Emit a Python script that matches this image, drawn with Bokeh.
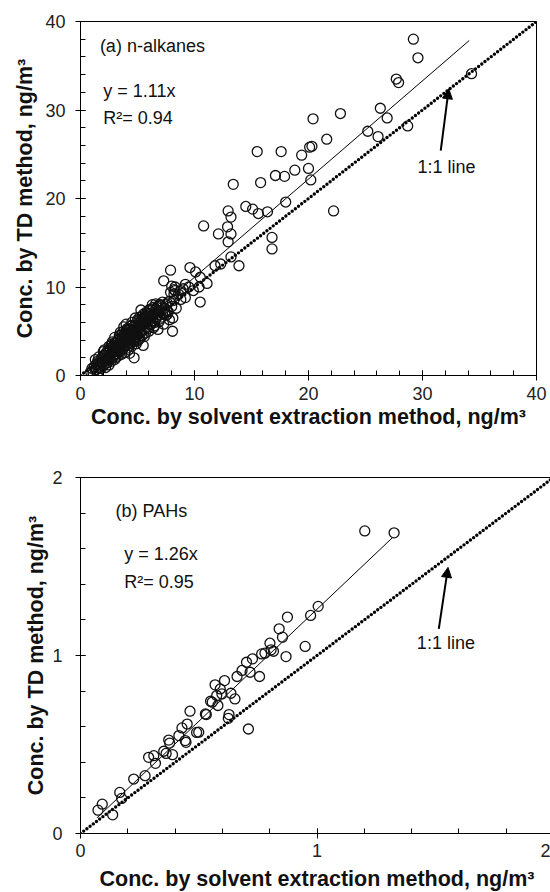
from bokeh.plotting import figure
from bokeh.models import Range1d, SingleIntervalTicker, Label, Arrow, NormalHead
from bokeh.layouts import column
from bokeh.embed import file_html
from bokeh.resources import INLINE

# ---------------- data: (a) n-alkanes ----------------
alk_x = [29.2, 29.6, 34.3, 27.7, 27.9, 26.3, 26.9, 22.8, 20.4, 25.2, 26.1, 28.7,
         21.6, 20.1, 20.3, 19.4, 17.6, 15.5, 18.8, 20.0, 20.2, 17.1, 17.9, 15.8,
         13.4, 18.0, 22.2, 14.5, 15.1, 15.6, 16.4, 12.95, 13.2, 10.8, 12.1, 12.9,
         13.2, 12.95, 16.8, 16.8, 12.3, 13.2, 13.9, 11.8, 7.9, 9.6, 10.1, 10.5,
         11.1, 7.3, 10.5, 8.3, 8.8, 9.5, 9.9, 10.4, 8.2, 9.2, 8.07,
         0.9, 1.0, 1.1, 1.2, 1.3, 1.4, 1.5, 1.5, 1.6, 1.7, 1.8, 1.8, 1.9, 2.0, 2.0,
         2.1, 2.2, 2.2, 2.3, 2.3, 2.4, 2.5, 2.5, 2.6, 2.6, 2.7, 2.8, 2.8, 2.9, 3.0,
         3.0, 3.0, 3.1, 3.2, 3.2, 3.3, 3.3, 3.4, 3.5, 3.5, 3.5, 3.6, 3.7, 3.7, 3.8,
         3.8, 3.9, 3.9, 4.0, 4.0, 4.0, 4.1, 4.1, 4.2, 4.2, 4.3, 4.3, 4.4, 4.4, 4.5,
         4.5, 4.5, 4.6, 4.6, 4.7, 4.7, 4.8, 4.8, 4.9, 4.9, 5.0, 5.0, 5.0, 5.1, 5.2,
         5.2, 5.3, 5.3, 5.4, 5.5, 5.5, 5.6, 5.6, 5.7, 5.8, 5.8, 5.9, 6.0, 6.0, 6.1,
         6.2, 6.3, 6.3, 6.4, 6.5, 6.5, 6.6, 6.7, 6.8, 6.9, 7.0, 7.0, 7.2, 7.3, 7.4,
         7.5, 7.6, 7.7, 7.8, 8.0, 8.1, 8.2, 8.3, 8.4, 8.6, 8.8, 9.0, 9.2,
         1.3, 1.6, 2.1, 2.4, 2.7, 2.9, 3.1, 3.4, 3.6, 3.9, 4.1, 4.3, 4.6, 4.8, 5.1,
         5.4, 5.7, 6.1, 6.6, 7.1, 6.9, 7.9, 8.0, 8.2,
         1.2, 1.4, 1.6, 1.7, 1.9, 2.0, 2.1, 2.2, 2.3, 2.4, 2.5, 2.6, 2.7, 2.8, 2.9,
         3.0, 3.1, 3.2, 3.3, 3.4, 3.5, 3.6, 3.7, 3.8, 3.9, 4.0, 4.1, 4.2, 4.3, 4.4,
         4.5, 4.6, 4.7, 4.8, 4.9, 5.0, 5.1, 5.2, 5.3, 5.4, 5.5, 5.6, 5.7, 5.8, 5.9,
         6.0, 6.1, 6.2, 6.3, 6.4, 6.5, 6.6, 6.7, 6.8, 6.9, 7.0, 7.1, 7.2, 7.4, 7.5,
         7.6, 7.8, 2.0, 2.5, 3.0, 3.5, 4.0, 4.5, 5.0, 5.5, 6.0, 3.2, 3.7, 4.2, 4.7,
         5.2, 5.7, 2.8, 3.3, 3.8, 4.3, 4.8, 5.3, 5.8, 6.3]
alk_y = [38.0, 35.9, 34.1, 33.5, 33.1, 30.2, 29.1, 29.6, 29.0, 27.6, 27.0, 28.2,
         26.7, 25.8, 25.9, 24.9, 25.3, 25.3, 23.2, 23.4, 22.1, 22.6, 22.5, 21.8,
         21.6, 19.6, 18.6, 19.1, 18.8, 18.3, 18.5, 18.6, 17.9, 16.9, 16.0, 16.8,
         16.0, 15.1, 15.6, 14.3, 12.6, 13.4, 12.4, 12.4, 11.9, 12.2, 11.7, 11.1,
         10.4, 10.7, 8.3, 10.0, 9.6, 10.0, 9.6, 10.0, 9.2, 8.8, 5.0,
         0.4, 0.8, 0.3, 1.0, 0.6, 1.3, 0.9, 1.6, 0.5, 1.2, 1.9, 0.8, 1.5, 2.2, 1.1,
         1.7, 0.9, 2.5, 1.4, 2.0, 2.8, 1.8, 1.2, 2.3, 3.1, 1.6, 2.6, 2.0, 3.4, 4.3,
         2.4, 1.8, 3.0, 2.7, 3.7, 2.2, 4.0, 3.2, 4.9, 2.8, 3.6, 2.4, 4.3, 3.0, 3.9,
         5.5, 3.4, 2.6, 4.6, 3.8, 5.8, 3.1, 4.2, 5.1, 2.9, 4.8, 3.6, 5.6, 4.0, 3.3,
         4.5, 6.0, 5.2, 3.9, 4.8, 2.0, 5.7, 4.3, 3.6, 5.0, 6.3, 4.6, 3.9, 5.4, 4.2,
         6.0, 7.4, 5.0, 4.5, 5.8, 3.4, 6.5, 5.2, 4.8, 6.2, 5.5, 7.0, 5.0, 6.6, 5.8,
         7.5, 6.2, 8.0, 5.4, 7.0, 6.0, 8.1, 6.6, 5.2, 7.3, 6.4, 8.0, 7.0, 5.8, 7.6,
         6.8, 8.2, 7.2, 6.3, 7.8, 6.5, 8.5, 9.6, 7.6, 9.2, 8.6, 9.8, 10.3,
         1.8, 2.1, 2.9, 1.5, 3.5, 2.9, 2.0, 4.5, 4.1, 4.8, 5.3, 2.5, 4.2, 6.5, 4.0,
         6.6, 7.1, 6.9, 7.4, 7.9, 6.1, 9.4, 10.1, 9.7,
         0.9, 0.7, 1.4, 0.9, 2.0, 1.5, 2.3, 1.8, 2.6, 2.1, 2.9, 1.9, 2.5, 3.2, 2.3,
         3.1, 3.6, 2.4, 3.4, 2.7, 4.2, 3.3, 3.7, 3.1, 4.4, 3.4, 4.8, 4.1, 5.3, 3.6,
         5.0, 4.6, 5.5, 3.9, 4.6, 5.6, 6.2, 4.8, 5.7, 5.2, 6.4, 4.4, 5.9, 7.0, 5.3,
         6.2, 7.3, 5.8, 6.8, 7.7, 5.6, 6.4, 7.7, 6.9, 8.0, 7.2, 6.6, 8.3, 7.0, 8.0,
         6.9, 8.4, 2.7, 3.3, 3.7, 4.5, 5.1, 5.6, 5.3, 6.9, 7.4, 3.2, 4.9, 4.5, 4.0,
         6.6, 6.5, 3.8, 2.9, 4.6, 4.1, 5.2, 6.2, 6.7, 7.1]
alk_slope = 1.11
alk_r2 = 0.94
alk_fit_x = [0.3, 34.1]

# ---------------- data: (b) PAHs ----------------
pah_x = [1.202, 1.326, 1.005, 0.973, 0.875, 0.840, 0.854, 0.801, 0.806, 0.816,
         0.780, 0.766, 0.950, 0.869, 0.727, 0.702, 0.717, 0.683, 0.757, 0.662,
         0.609, 0.569, 0.591, 0.576, 0.598, 0.636, 0.653, 0.550, 0.581, 0.710,
         0.628, 0.625, 0.532, 0.463, 0.491, 0.451, 0.429, 0.416, 0.443, 0.446,
         0.373, 0.377, 0.352, 0.362, 0.389, 0.310, 0.288, 0.317, 0.273, 0.225,
         0.166, 0.174, 0.092, 0.074, 0.136, 0.557, 0.528, 0.500]
pah_y = [1.700, 1.689, 1.276, 1.225, 1.216, 1.150, 1.103, 1.069, 1.032, 1.024,
         1.013, 1.009, 1.051, 0.994, 0.981, 0.962, 0.906, 0.916, 0.882, 0.882,
         0.859, 0.835, 0.812, 0.775, 0.784, 0.788, 0.756, 0.743, 0.719, 0.587,
         0.668, 0.647, 0.668, 0.687, 0.568, 0.615, 0.593, 0.550, 0.522, 0.512,
         0.525, 0.508, 0.462, 0.450, 0.443, 0.437, 0.428, 0.394, 0.325, 0.306,
         0.231, 0.197, 0.165, 0.131, 0.105, 0.738, 0.672, 0.569]
pah_slope = 1.26
pah_r2 = 0.95
pah_fit_x = [0.07, 1.32]

X_TITLE = "Conc. by solvent extraction method, ng/m\u00b3"
Y_TITLE = "Conc. by TD method, ng/m\u00b3"
FONT = "Liberation Sans"
INK = "#111111"


def make_panel(xs, ys, slope, r2, fit_x, vmax, interval, tag,
               fw, fh, bl, br, bt, bb, ann):
    p = figure(frame_width=fw, frame_height=fh,
               min_border_left=bl, min_border_right=br,
               min_border_top=bt, min_border_bottom=bb,
               x_range=Range1d(0, vmax), y_range=Range1d(0, vmax),
               output_backend="svg", toolbar_location=None,
               background_fill_color="white", border_fill_color="white")
    p.xgrid.visible = False
    p.ygrid.visible = False
    p.outline_line_color = "black"
    p.outline_line_width = 1
    p.outline_line_alpha = 1

    for ax, title in ((p.xaxis[0], X_TITLE), (p.yaxis[0], Y_TITLE)):
        ax.ticker = SingleIntervalTicker(interval=interval, num_minor_ticks=5)
        ax.axis_label = title
        ax.axis_label_text_font = FONT
        ax.axis_label_text_font_style = "bold"
        ax.axis_label_text_font_size = "21.5px"
        ax.axis_label_text_color = INK
        ax.major_label_text_font = FONT
        ax.major_label_text_font_size = "18px"
        ax.major_label_text_color = "#222222"
        ax.axis_line_color = "black"
        ax.major_tick_line_color = "black"
        ax.minor_tick_line_color = "black"
        ax.major_tick_in = 5
        ax.major_tick_out = 5
        ax.minor_tick_in = 5
        ax.minor_tick_out = 0
    p.xaxis.major_label_standoff = ann["xls"]
    p.xaxis.axis_label_standoff = ann["xts"]
    p.yaxis.major_label_standoff = ann["yls"]
    p.yaxis.axis_label_standoff = ann["yts"]

    # 1:1 line (dotted)
    p.line([0, vmax], [0, vmax], line_color="black", line_width=3.4,
           line_dash="0 4", line_cap="round")
    # regression line
    p.line(fit_x, [slope * v for v in fit_x], line_color="black", line_width=1)
    # data points
    p.scatter(xs, ys, marker="circle", size=10, fill_color=None,
              line_color=INK, line_width=1.3)

    def lab(x, y, text, align="left"):
        p.add_layout(Label(x=x, y=y, text=text, text_font=FONT,
                           text_font_size="18px", text_color=INK,
                           text_align=align, text_baseline="middle"))

    lab(ann["tag"][0], ann["tag"][1], tag)
    lab(ann["eq"][0], ann["eq"][1], "y = %.2fx" % slope)
    lab(ann["r2"][0], ann["r2"][1], "R\u00b2= %.2f" % r2)
    lab(ann["one"][0], ann["one"][1], "1:1 line", align="center")
    a = ann["arrow"]
    p.add_layout(Arrow(end=NormalHead(size=10, fill_color="black",
                                      line_color="black"),
                       x_start=a[0], y_start=a[1], x_end=a[2], y_end=a[3],
                       line_width=2, line_color="black"))
    return p


top = make_panel(alk_x, alk_y, alk_slope, alk_r2, alk_fit_x, 40, 10,
                 "(a) n-alkanes", fw=456, fh=354, bl=80, br=14, bt=21, bb=71,
                 ann=dict(tag=(1.7, 37.25), eq=(2.0, 32.2), r2=(2.0, 29.1),
                          one=(32.1, 23.6), arrow=(31.6, 25.4, 32.3, 32.4),
                          xls=6, xts=2, yls=10, yts=5))
bot = make_panel(pah_x, pah_y, pah_slope, pah_r2, pah_fit_x, 2, 1,
                 "(b) PAHs", fw=473, fh=356, bl=70, br=7, bt=31, bb=59,
                 ann=dict(tag=(0.148, 1.812), eq=(0.185, 1.572), r2=(0.185, 1.413),
                          one=(1.545, 1.071), arrow=(1.515, 1.150, 1.554, 1.495),
                          xls=5, xts=7, yls=13, yts=1))

layout = column(top, bot, spacing=0)
open("out.html", "w").write(file_html(layout, INLINE))
